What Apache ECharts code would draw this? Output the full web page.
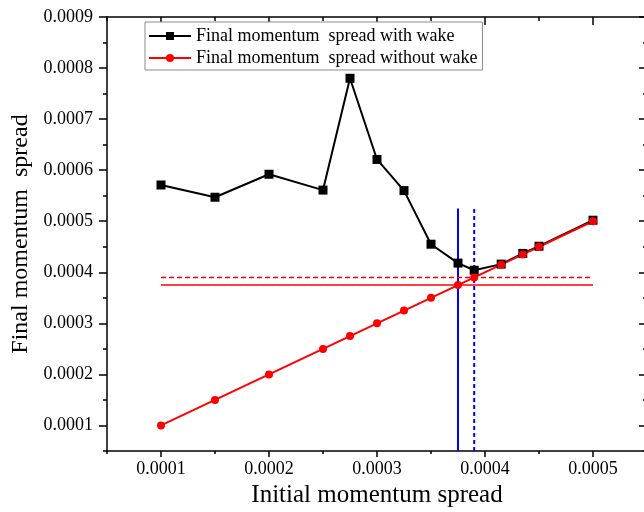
<!DOCTYPE html>
<html>
<head>
<meta charset="utf-8">
<script src="https://cdn.jsdelivr.net/npm/echarts@6/dist/echarts.min.js"></script>
<style>
  html, body { margin: 0; padding: 0; background: #fff; }
  #chart { width: 644px; height: 512px; }
</style>
</head>
<body>
<div id="chart"></div>
<script>
// Initial momentum spread (x) for every simulated case
const initialSpread = [0.0001, 0.00015, 0.0002, 0.00025, 0.000275, 0.0003, 0.000325,
  0.00035, 0.000375, 0.00039, 0.000415, 0.000435, 0.00045, 0.0005];
// Final momentum spread with wakefields
const finalWithWake = [0.000571, 0.000547, 0.000592, 0.000561, 0.00078, 0.000621, 0.00056,
  0.000455, 0.000418, 0.000404, 0.000416, 0.000437, 0.000451, 0.000502];
// Final momentum spread without wakefields
const finalWithoutWake = [0.0001, 0.00015, 0.0002, 0.00025, 0.000275, 0.0003, 0.000325,
  0.00035, 0.000375, 0.00039, 0.000415, 0.000435, 0.00045, 0.0005];

// Tick positions
const xMajorTicks = [0.0001, 0.0002, 0.0003, 0.0004, 0.0005];
const xMinorTicks = [0.00005, 0.00015, 0.00025, 0.00035, 0.00045, 0.00055];
const yMajorTicks = [0.0001, 0.0002, 0.0003, 0.0004, 0.0005, 0.0006, 0.0007, 0.0008, 0.0009];
const yMinorTicks = [0.00005, 0.00015, 0.00025, 0.00035, 0.00045, 0.00055, 0.00065, 0.00075, 0.00085];

// Threshold guide lines
const thresholdSolid = 0.000375;
const thresholdDashed = 0.00039;
const verticalSpan = [0.00005, 0.000525];
const horizontalSpan = [0.0001, 0.0005];

const xRange = [0.00005, 0.00055];
const yRange = [0.00005, 0.0009];

const FONT = 'Liberation Serif';
const legendNames = ['Final momentum  spread with wake', 'Final momentum  spread without wake'];

const pairs = (xs, ys) => xs.map((x, i) => [x, ys[i]]);

const hiddenAxisBits = {
  axisLabel: { show: false },
  splitLine: { show: false }
};

const chart = echarts.init(document.getElementById('chart'), null, { renderer: 'canvas' });

chart.setOption({
  animation: false,
  backgroundColor: '#ffffff',
  grid: { left: 107, top: 17, width: 540, height: 434, outerBoundsMode: 'none', containLabel: false },
  legend: {
    data: legendNames,
    orient: 'vertical',
    left: 145,
    top: 22,
    padding: [5, 5, 3, 3],
    itemGap: 4,
    itemWidth: 42,
    itemHeight: 10,
    backgroundColor: '#ffffff',
    borderColor: '#8c8c8c',
    borderWidth: 1,
    borderRadius: 0,
    textStyle: { fontFamily: FONT, fontSize: 18, color: '#000', padding: [0, 0, 0, 0] }
  },
  xAxis: [
    {
      type: 'value', position: 'bottom', min: xRange[0], max: xRange[1],
      name: 'Initial momentum spread', nameLocation: 'middle', nameGap: 32,
      nameTextStyle: { fontFamily: FONT, fontSize: 25, color: '#000' },
      axisLine: { show: true, lineStyle: { color: '#000', width: 1.5 } },
      axisTick: { show: true, inside: false, length: 6, customValues: xMajorTicks,
        lineStyle: { color: '#000', width: 1.5 } },
      axisLabel: { show: true, customValues: xMajorTicks, margin: 9,
        formatter: v => v.toFixed(4),
        fontFamily: FONT, fontSize: 18, color: '#000' },
      splitLine: { show: false }
    },
    Object.assign({
      type: 'value', position: 'bottom', min: xRange[0], max: xRange[1],
      axisLine: { show: false },
      axisTick: { show: true, inside: false, length: 3, customValues: xMinorTicks,
        lineStyle: { color: '#000', width: 1.5 } }
    }, hiddenAxisBits),
    Object.assign({
      type: 'value', position: 'top', min: xRange[0], max: xRange[1],
      axisLine: { show: true, lineStyle: { color: '#000', width: 1.5 } },
      axisTick: { show: true, inside: true, length: 8, customValues: xMajorTicks,
        lineStyle: { color: '#000', width: 1.5 } }
    }, hiddenAxisBits),
    Object.assign({
      type: 'value', position: 'top', min: xRange[0], max: xRange[1],
      axisLine: { show: false },
      axisTick: { show: true, inside: true, length: 4, customValues: xMinorTicks,
        lineStyle: { color: '#000', width: 1.5 } }
    }, hiddenAxisBits)
  ],
  yAxis: [
    {
      type: 'value', position: 'left', min: yRange[0], max: yRange[1],
      name: 'Final momentum  spread', nameLocation: 'middle', nameGap: 74,
      nameTextStyle: { fontFamily: FONT, fontSize: 24, color: '#000' },
      axisLine: { show: true, lineStyle: { color: '#000', width: 1.5 } },
      axisTick: { show: true, inside: false, length: 8, customValues: yMajorTicks,
        lineStyle: { color: '#000', width: 1.5 } },
      axisLabel: { show: true, customValues: yMajorTicks, margin: 14,
        formatter: v => v.toFixed(4),
        fontFamily: FONT, fontSize: 18, color: '#000' },
      splitLine: { show: false }
    },
    Object.assign({
      type: 'value', position: 'left', min: yRange[0], max: yRange[1],
      axisLine: { show: false },
      axisTick: { show: true, inside: false, length: 4, customValues: yMinorTicks,
        lineStyle: { color: '#000', width: 1.5 } }
    }, hiddenAxisBits),
    Object.assign({
      type: 'value', position: 'right', min: yRange[0], max: yRange[1],
      axisLine: { show: true, lineStyle: { color: '#000', width: 1.5 } },
      axisTick: { show: true, inside: true, length: 8, customValues: yMajorTicks,
        lineStyle: { color: '#000', width: 1.5 } }
    }, hiddenAxisBits),
    Object.assign({
      type: 'value', position: 'right', min: yRange[0], max: yRange[1],
      axisLine: { show: false },
      axisTick: { show: true, inside: true, length: 4, customValues: yMinorTicks,
        lineStyle: { color: '#000', width: 1.5 } }
    }, hiddenAxisBits)
  ],
  series: [
    {
      name: 'vertical solid', type: 'line', silent: true, symbol: 'none',
      data: [[thresholdSolid, verticalSpan[0]], [thresholdSolid, verticalSpan[1]]],
      lineStyle: { color: '#0000ff', width: 2 }
    },
    {
      name: 'vertical dashed', type: 'line', silent: true, symbol: 'none',
      data: [[thresholdDashed, verticalSpan[0]], [thresholdDashed, verticalSpan[1]]],
      lineStyle: { color: '#0000ff', width: 2, type: [4, 3] }
    },
    {
      name: 'horizontal solid', type: 'line', silent: true, symbol: 'none',
      data: [[horizontalSpan[0], thresholdSolid], [horizontalSpan[1], thresholdSolid]],
      lineStyle: { color: '#ff0000', width: 1.5 }
    },
    {
      name: 'horizontal dashed', type: 'line', silent: true, symbol: 'none',
      data: [[horizontalSpan[0], thresholdDashed], [horizontalSpan[1], thresholdDashed]],
      lineStyle: { color: '#ff0000', width: 1.5, type: [5, 3] }
    },
    {
      name: legendNames[0], type: 'line',
      data: pairs(initialSpread, finalWithWake),
      symbol: 'rect', symbolSize: 9,
      itemStyle: { color: '#000' },
      lineStyle: { color: '#000', width: 2 }
    },
    {
      name: legendNames[1], type: 'line',
      data: pairs(initialSpread, finalWithoutWake),
      symbol: 'circle', symbolSize: 8,
      itemStyle: { color: '#ff0000' },
      lineStyle: { color: '#ff0000', width: 2 }
    }
  ]
});
</script>
</body>
</html>
